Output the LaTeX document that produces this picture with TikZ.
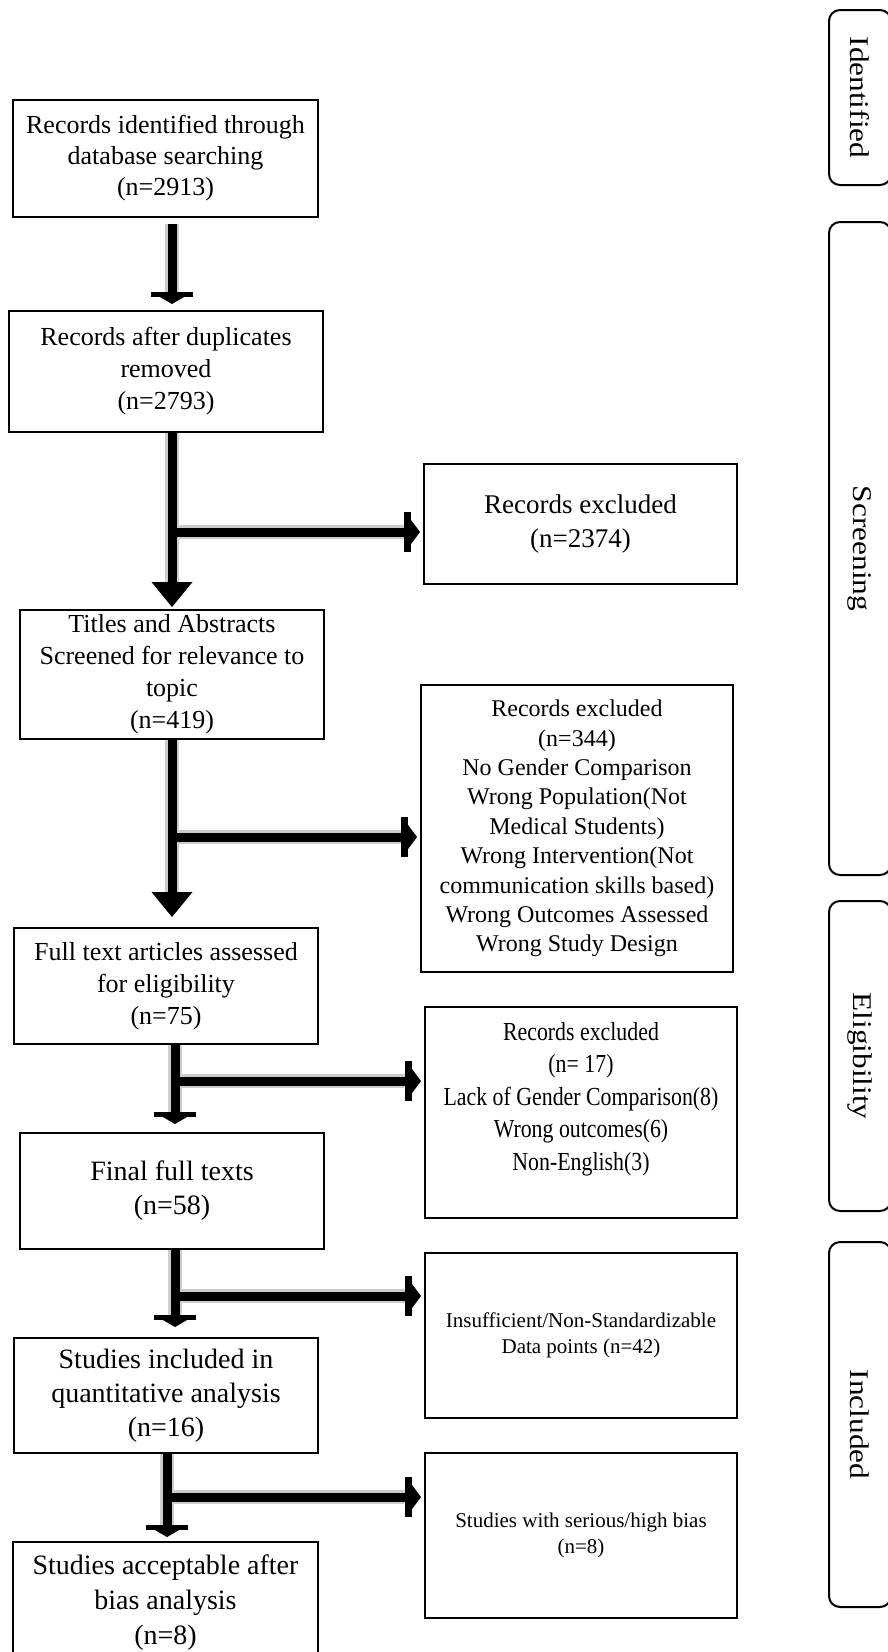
\documentclass[tikz,border=0pt]{standalone}
\usepackage{fontspec}
\setmainfont{Liberation Serif}
\newfontfamily\narrowfont[FakeStretch=0.84]{Liberation Serif}
\newfontfamily\widefont[FakeStretch=1.16]{Liberation Serif}
\usetikzlibrary{arrows.meta}

\tikzset{
  box/.style={draw, line width=2pt, align=center, inner sep=0pt},
  flowline/.style={line width=9pt, preaction={draw, black!20, line width=14pt}},
  teearr/.style={flowline, -{Rectangle[length=5pt,width=42pt,line width=0pt]Triangle[length=7pt,width=24pt,line width=0pt]}},
  downarr/.style={flowline, -{Triangle[length=25pt,width=41pt,line width=0pt]}},
  sidearr/.style={flowline, shorten >=3pt, -{Rectangle[length=7pt,width=40pt,line width=0pt]Triangle[length=9pt,width=24pt,line width=0pt]}},
  stage/.style={draw, line width=2pt, rounded corners=11pt, rotate=-90, minimum height=62pt, inner sep=0pt, font=\widefont\fontsize{27}{32}\selectfont}
}

\begin{document}
\begin{tikzpicture}[x=1pt, y=-1pt]
\useasboundingbox (0,0) rectangle (888,1652);
\clip (0,0) rectangle (888,1652);
\fill[white] (0,0) rectangle (888,1652);

    \node[box, minimum width=305pt, minimum height=117pt, font=\fontsize{26}{31}\selectfont] (b1) at (165.5,158.5) {Records identified through\\database searching\\(n=2913)};
    \node[box, minimum width=314pt, minimum height=121pt, font=\fontsize{26}{32}\selectfont] (b2) at (166,371.5) {Records after duplicates\\removed\\(n=2793)};
    \node[box, minimum width=304pt, minimum height=129pt, font=\fontsize{26}{32}\selectfont] (b3) at (172,674.5) {Titles and Abstracts\\Screened for relevance to\\topic\\(n=419)};
    \node[box, minimum width=304pt, minimum height=116pt, font=\fontsize{26}{32}\selectfont] (b4) at (166,986) {Full text articles assessed\\for eligibility\\(n=75)};
    \node[box, minimum width=304pt, minimum height=116pt, font=\fontsize{28}{34}\selectfont] (b5) at (172,1191) {Final full texts\\(n=58)};
    \node[box, minimum width=304pt, minimum height=115pt, font=\fontsize{28}{34}\selectfont] (b6) at (166,1395.5) {Studies included in\\quantitative analysis\\(n=16)};
    \node[box, minimum width=305pt, minimum height=122pt, font=\fontsize{28}{35}\selectfont] (b7) at (165.5,1603) {Studies acceptable after\\bias analysis\\(n=8)};

    \node[box, minimum width=313pt, minimum height=120pt, font=\fontsize{27}{34}\selectfont] (r1) at (580.5,524) {Records excluded\\(n=2374)};
    \node[box, minimum width=312pt, minimum height=287pt, font=\fontsize{24}{29.4}\selectfont] (r2) at (577,828.5) {Records excluded\\(n=344)\\No Gender Comparison\\Wrong Population(Not\\Medical Students)\\Wrong Intervention(Not\\communication skills based)\\Wrong Outcomes Assessed\\Wrong Study Design};
    \node[box, minimum width=312pt, minimum height=211pt, font=\narrowfont\fontsize{26}{32.5}\selectfont] (r3) at (581,1112.5) {\raisebox{14pt}[\height][\depth]{\begin{tabular}{@{}c@{}}Records excluded\\(n= 17)\\Lack of Gender Comparison(8)\\Wrong outcomes(6)\\Non-English(3)\end{tabular}}};
    \node[box, minimum width=312pt, minimum height=165pt, font=\fontsize{21}{26}\selectfont] (r4) at (581,1335.5) {Insufficient/Non-Standardizable\\Data points (n=42)};
    \node[box, minimum width=312pt, minimum height=165pt, font=\fontsize{21}{26}\selectfont] (r5) at (581,1535.5) {Studies with serious/high bias\\(n=8)};

    \node[stage, minimum width=175pt] (identified) at (860,97.5) {Identified};
    \node[stage, minimum width=653pt] (screening) at (860,548.5) {Screening};
    \node[stage, minimum width=310pt] (eligibility) at (860,1056) {Eligibility};
    \node[stage, minimum width=365pt] (included) at (860,1424.5) {Included};

    \coordinate (k2) at (176.5,532);
    \coordinate (k3) at (176.5,837);
    \coordinate (k4) at (179.5,1081);
    \coordinate (k5) at (179.5,1296);
    \coordinate (k6) at (171.5,1497);

    \draw[teearr, shorten <=6pt, shorten >=6pt] ([xshift=-4.5pt]b1.south -| k2) -- ([xshift=-4.5pt]b2.north -| k2);
    \draw[downarr, shorten >=2pt] ([xshift=-4.5pt]b2.south -| k2) -- ([xshift=-4.5pt]b3.north -| k2);
    \draw[downarr, shorten >=10pt] ([xshift=-4.5pt]b3.south -| k3) -- ([xshift=-4.5pt]b4.north -| k3);
    \draw[teearr, shorten >=8pt] ([xshift=-4.5pt]b4.south -| k4) -- ([xshift=-4.5pt]b5.north -| k4);
    \draw[teearr, shorten >=10pt] ([xshift=-4.5pt]b5.south -| k5) -- ([xshift=-4.5pt]b6.north -| k5);
    \draw[teearr, shorten >=4pt] ([xshift=-4.5pt]b6.south -| k6) -- ([xshift=-4.5pt]b7.north -| k6);

    \draw[sidearr] (k2) -- (k2 -| r1.west);
    \draw[sidearr] (k3) -- (k3 -| r2.west);
    \draw[sidearr] (k4) -- (k4 -| r3.west);
    \draw[sidearr] (k5) -- (k5 -| r4.west);
    \draw[sidearr] (k6) -- (k6 -| r5.west);
\end{tikzpicture}
\end{document}
